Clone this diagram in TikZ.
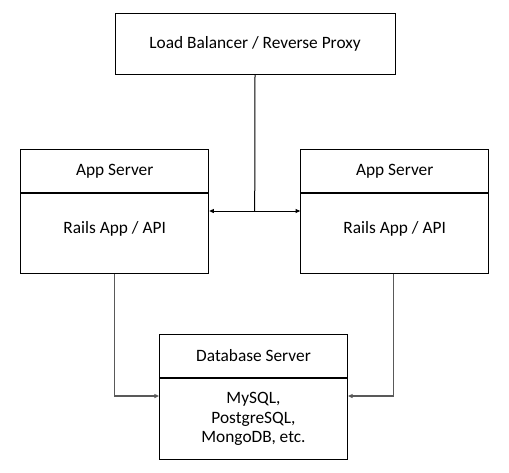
\documentclass[tikz,border=0pt]{standalone}
\usepackage{fontspec}
\setmainfont{Carlito}
\usetikzlibrary{arrows.meta}

\begin{document}
\begin{tikzpicture}[x=0.75pt,y=-0.75pt,
    box/.style={draw,line width=0.75pt,inner sep=0pt,font=\fontsize{13}{14.6}\selectfont},
    tip/.style={-{Triangle[length=3.5pt,width=3pt]}}]
  \useasboundingbox (0,0) rectangle (509,472);
  % Load balancer
  \node[box,minimum width=210pt,minimum height=45.5pt] (lb) at (255,43.7) {Load Balancer / Reverse Proxy};
  % App servers
  \node[box,minimum width=141pt,minimum height=32.25pt] (app1top) at (114.7,170.8) {App Server};
  \node[box,minimum width=141pt,minimum height=60pt,text depth=8pt,anchor=north] (app1body) at (app1top.south) {Rails App / API};
  \node[box,minimum width=141pt,minimum height=32.25pt] (app2top) at (394.7,170.8) {App Server};
  \node[box,minimum width=141pt,minimum height=60pt,text depth=8pt,anchor=north] (app2body) at (app2top.south) {Rails App / API};
  % Database
  \node[box,minimum width=141pt,minimum height=32.5pt] (dbtop) at (253.5,356) {Database Server};
  \node[box,minimum width=141pt,minimum height=60.5pt,align=center,anchor=north] (dbbody) at (dbtop.south) {MySQL,\\PostgreSQL,\\MongoDB, etc.};
  % connectors
  \coordinate (split) at (254.7,211);
  \coordinate (dbin) at (254,396);
  \draw[line width=0.75pt] (lb.south) -- (split);
  \draw[line width=0.75pt,tip] (split) -- (split -| app1body.east);
  \draw[line width=0.75pt,tip] (split) -- (split -| app2body.west);
  \draw[black!65,line width=1pt,tip] (app1body.south) |- (dbin -| dbbody.west);
  \draw[black!65,line width=1pt,tip] ([xshift=-1pt]app2body.south) |- (dbin -| dbbody.east);
\end{tikzpicture}
\end{document}
